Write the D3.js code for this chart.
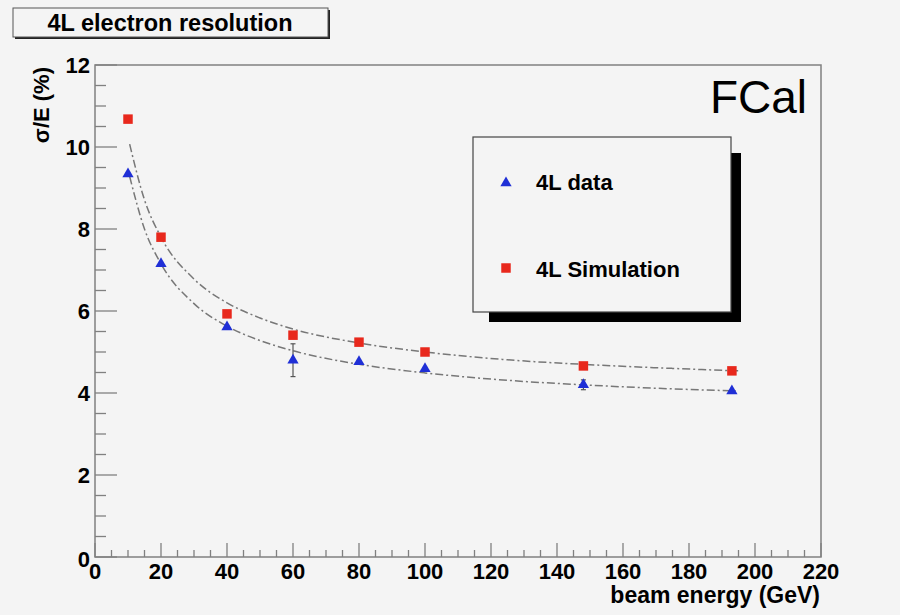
<!DOCTYPE html>
<html>
<head>
<meta charset="utf-8">
<script src="https://cdn.jsdelivr.net/npm/d3@7"></script>
<style>
  body { margin: 0; background: #f4f4f4; }
  svg { display: block; }
  text { font-family: "Liberation Sans", Arial, sans-serif; }
</style>
</head>
<body>
<svg id="chart" width="900" height="615"></svg>
<script>
// beam energies (GeV)
const energies = [10, 20, 40, 60, 80, 100, 148, 193];
// 4L data (blue triangles) and its errors
const dataRes = [9.34, 7.15, 5.61, 4.80, 4.76, 4.59, 4.20, 4.05];
const dataErr = [0, 0, 0, 0.40, 0, 0, 0.12, 0];
// 4L simulation (red squares)
const simRes = [10.68, 7.80, 5.93, 5.41, 5.24, 5.00, 4.66, 4.54];

// fit curves
const fitE = [10.5, 15, 20, 30, 40, 50, 60, 80, 100, 125, 150, 175, 195];
const fitData = [9.28, 8.00, 7.15, 6.18, 5.63, 5.28, 5.03, 4.70, 4.49, 4.31, 4.19, 4.10, 4.05];
const fitSim = [10.07, 8.71, 7.80, 6.78, 6.20, 5.83, 5.56, 5.22, 5.00, 4.81, 4.69, 4.60, 4.54];

const xTicks = [0, 20, 40, 60, 80, 100, 120, 140, 160, 180, 200, 220];
const yTicks = [0, 2, 4, 6, 8, 10, 12];

const svg = d3.select("#chart");
const padL = 95, padR = 821, padT = 65, padB = 557;
const axisColor = "#808080";

svg.append("rect").attr("width", 900).attr("height", 615).attr("fill", "#f4f4f4");

const x = d3.scaleLinear().domain([0, 220]).range([padL, padR]);
const y = d3.scaleLinear().domain([0, 12]).range([padB, padT]);

// frame
svg.append("rect")
    .attr("x", padL).attr("y", padT)
    .attr("width", padR - padL).attr("height", padB - padT)
    .attr("fill", "none").attr("stroke", axisColor).attr("stroke-width", 1.5);

// x axis ticks
const xAxis = svg.append("g");
d3.range(0, 221, 5).forEach(v => {
    const major = v % 20 === 0;
    xAxis.append("line")
        .attr("x1", x(v)).attr("x2", x(v))
        .attr("y1", padB).attr("y2", padB - (major ? 14 : 7))
        .attr("stroke", axisColor).attr("stroke-width", 1.3);
});
xAxis.selectAll("text.tick")
    .data(xTicks)
    .enter().append("text")
    .attr("x", d => x(d)).attr("y", 579)
    .attr("text-anchor", "middle")
    .attr("font-size", 22).attr("font-weight", "bold")
    .text(d => d);

// y axis ticks
const yAxis = svg.append("g");
d3.range(0, 12.01, 0.5).forEach(v => {
    const major = Math.abs(v % 2) < 1e-6;
    yAxis.append("line")
        .attr("x1", padL).attr("x2", padL + (major ? 22 : 11))
        .attr("y1", y(v)).attr("y2", y(v))
        .attr("stroke", axisColor).attr("stroke-width", 1.3);
});
yAxis.selectAll("text.tick")
    .data(yTicks)
    .enter().append("text")
    .attr("x", 90).attr("y", d => y(d) + (d === 0 ? 10 : 8))
    .attr("text-anchor", "end")
    .attr("font-size", 22).attr("font-weight", "bold")
    .text(d => d);

// axis titles
svg.append("text")
    .attr("x", 820).attr("y", 603)
    .attr("text-anchor", "end")
    .attr("font-size", 23).attr("font-weight", "bold")
    .text("beam energy (GeV)");

svg.append("text")
    .attr("transform", "translate(49,67) rotate(-90)")
    .attr("text-anchor", "end")
    .attr("font-size", 22).attr("font-weight", "bold")
    .text("σ/E (%)");

// fit curves
const line = d3.line()
    .x(d => x(d[0]))
    .y(d => y(d[1]))
    .curve(d3.curveMonotoneX);

[fitData, fitSim].forEach(vals => {
    svg.append("path")
        .attr("d", line(fitE.map((e, i) => [e, vals[i]])))
        .attr("fill", "none")
        .attr("stroke", "#777")
        .attr("stroke-width", 1.5)
        .attr("stroke-dasharray", "8,3,2,3");
});

// error bars
const errG = svg.append("g");
energies.forEach((e, i) => {
    if (!dataErr[i]) return;
    const cx = x(e);
    const y1 = y(dataRes[i] - dataErr[i]), y2 = y(dataRes[i] + dataErr[i]);
    errG.append("line").attr("x1", cx).attr("x2", cx).attr("y1", y1).attr("y2", y2)
        .attr("stroke", "#555").attr("stroke-width", 1.2);
    [y1, y2].forEach(yy => errG.append("line")
        .attr("x1", cx - 2.5).attr("x2", cx + 2.5).attr("y1", yy).attr("y2", yy)
        .attr("stroke", "#555").attr("stroke-width", 1.2));
});

// markers
const triangle = d3.symbol().type(d3.symbolTriangle).size(55);
const square = d3.symbol().type(d3.symbolSquare).size(90);

svg.append("g").selectAll("path")
    .data(energies.map((e, i) => [e, simRes[i]]))
    .enter().append("path")
    .attr("d", square)
    .attr("transform", d => `translate(${x(d[0])},${y(d[1])})`)
    .attr("fill", "#e8281c");

svg.append("g").selectAll("path")
    .data(energies.map((e, i) => [e, dataRes[i]]))
    .enter().append("path")
    .attr("d", triangle)
    .attr("transform", d => `translate(${x(d[0])},${y(d[1])})`)
    .attr("fill", "#1f2fd6");

// legend
const legend = svg.append("g");
legend.append("rect")
    .attr("x", 489).attr("y", 153).attr("width", 252).attr("height", 169)
    .attr("fill", "#000");
legend.append("rect")
    .attr("x", 473).attr("y", 137).attr("width", 258).attr("height", 175)
    .attr("fill", "#f4f4f4").attr("stroke", "#444").attr("stroke-width", 1.2);
legend.append("path")
    .attr("d", triangle)
    .attr("transform", "translate(506,183)")
    .attr("fill", "#1f2fd6");
legend.append("path")
    .attr("d", square)
    .attr("transform", "translate(506,268)")
    .attr("fill", "#e8281c");
legend.append("text")
    .attr("x", 536).attr("y", 190)
    .attr("font-size", 22).attr("font-weight", "bold")
    .text("4L data");
legend.append("text")
    .attr("x", 536).attr("y", 277)
    .attr("font-size", 22).attr("font-weight", "bold")
    .text("4L Simulation");

// FCal label
svg.append("text")
    .attr("x", 807).attr("y", 113)
    .attr("text-anchor", "end")
    .attr("font-size", 46)
    .text("FCal");

// title box
svg.append("rect")
    .attr("x", 15).attr("y", 10).attr("width", 315).attr("height", 29)
    .attr("fill", "#222");
svg.append("rect")
    .attr("x", 13).attr("y", 8).attr("width", 315).attr("height", 29)
    .attr("fill", "#f4f4f4").attr("stroke", "#555").attr("stroke-width", 1);
svg.append("text")
    .attr("x", 170).attr("y", 31)
    .attr("text-anchor", "middle")
    .attr("font-size", 23.5).attr("font-weight", "bold")
    .text("4L electron resolution");
</script>
</body>
</html>
